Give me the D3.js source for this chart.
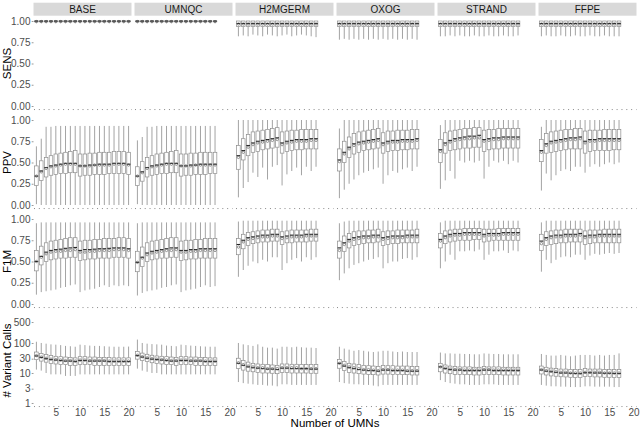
<!DOCTYPE html>
<html>
<head>
<meta charset="utf-8">
<script src="https://cdn.jsdelivr.net/npm/d3@7"></script>
<style>
body { margin: 0; background: #fff; }
text { font-family: "Liberation Sans", Arial, sans-serif; }
</style>
</head>
<body>
<div id="chart"></div>
<script>
// facets and axes
const panelNames = ["BASE", "UMNQC", "H2MGERM", "OXOG", "STRAND", "FFPE"];
const metricNames = ["SENS", "PPV", "F1M", "# Variant Calls"];
const xTicks = [5, 10, 15, 20];
const unitTicks = [0, 0.25, 0.5, 0.75, 1];
const callTicks = [1, 3, 10, 30, 100, 500];

// each box: [low whisker, q1, median, q3, high whisker, mean], one per UMN count from 1
const sensBase = [
  [0.975,0.99,1,1,1,0.993],[0.975,0.99,1,1,1,0.993],[0.975,0.99,1,1,1,0.993],[0.975,0.99,1,1,1,0.993],
  [0.975,0.99,1,1,1,0.993],[0.975,0.99,1,1,1,0.993],[0.975,0.99,1,1,1,0.993],[0.975,0.99,1,1,1,0.993],
  [0.975,0.99,1,1,1,0.993],[0.975,0.99,1,1,1,0.993],[0.975,0.99,1,1,1,0.993],[0.975,0.99,1,1,1,0.993],
  [0.975,0.99,1,1,1,0.993],[0.975,0.99,1,1,1,0.993],[0.975,0.99,1,1,1,0.993],[0.975,0.99,1,1,1,0.993],
  [0.975,0.99,1,1,1,0.993],[0.975,0.99,1,1,1,0.993],[0.975,0.99,1,1,1,0.993],[0.975,0.99,1,1,1,0.993]
];
const sensUmnqc = [
  [0.975,0.99,1,1,1,0.993],[0.975,0.99,1,1,1,0.993],[0.975,0.99,1,1,1,0.993],[0.975,0.99,1,1,1,0.993],
  [0.975,0.99,1,1,1,0.993],[0.975,0.99,1,1,1,0.993],[0.975,0.99,1,1,1,0.993],[0.975,0.99,1,1,1,0.993],
  [0.975,0.99,1,1,1,0.993],[0.975,0.99,1,1,1,0.993],[0.975,0.99,1,1,1,0.993],[0.975,0.99,1,1,1,0.993],
  [0.975,0.99,1,1,1,0.993],[0.975,0.99,1,1,1,0.993],[0.975,0.99,1,1,1,0.993],[0.975,0.99,1,1,1,0.993],
  [0.975,0.99,1,1,1,0.993]
];
const sensH2m = [
  [0.82,0.935,0.97,1,1,0.965],[0.83,0.935,0.97,1,1,0.965],[0.82,0.935,0.97,1,1,0.965],[0.84,0.935,0.97,1,1,0.965],
  [0.83,0.935,0.97,1,1,0.965],[0.82,0.935,0.97,1,1,0.965],[0.84,0.935,0.97,1,1,0.965],[0.83,0.935,0.97,1,1,0.965],
  [0.82,0.935,0.97,1,1,0.965],[0.83,0.935,0.97,1,1,0.965],[0.84,0.935,0.97,1,1,0.965],[0.82,0.935,0.97,1,1,0.965],
  [0.83,0.935,0.97,1,1,0.965],[0.84,0.935,0.97,1,1,0.965],[0.83,0.935,0.97,1,1,0.965],[0.82,0.935,0.97,1,1,0.965],
  [0.81,0.935,0.97,1,1,0.965]
];
const sensOxog = [
  [0.78,0.935,0.97,1,1,0.965],[0.79,0.935,0.97,1,1,0.965],[0.78,0.935,0.97,1,1,0.965],[0.79,0.935,0.97,1,1,0.965],
  [0.78,0.935,0.97,1,1,0.965],[0.79,0.935,0.97,1,1,0.965],[0.78,0.935,0.97,1,1,0.965],[0.79,0.935,0.97,1,1,0.965],
  [0.78,0.935,0.97,1,1,0.965],[0.79,0.935,0.97,1,1,0.965],[0.78,0.935,0.97,1,1,0.965],[0.79,0.935,0.97,1,1,0.965],
  [0.78,0.935,0.97,1,1,0.965],[0.79,0.935,0.97,1,1,0.965],[0.78,0.935,0.97,1,1,0.965],[0.79,0.935,0.97,1,1,0.965],
  [0.78,0.935,0.97,1,1,0.965]
];
const sensStrand = [
  [0.82,0.935,0.97,1,1,0.965],[0.82,0.935,0.97,1,1,0.965],[0.83,0.935,0.97,1,1,0.965],[0.82,0.935,0.97,1,1,0.965],
  [0.83,0.935,0.97,1,1,0.965],[0.82,0.935,0.97,1,1,0.965],[0.82,0.935,0.97,1,1,0.965],[0.83,0.935,0.97,1,1,0.965],
  [0.82,0.935,0.97,1,1,0.965],[0.82,0.935,0.97,1,1,0.965],[0.83,0.935,0.97,1,1,0.965],[0.82,0.935,0.97,1,1,0.965],
  [0.82,0.935,0.97,1,1,0.965],[0.83,0.935,0.97,1,1,0.965],[0.82,0.935,0.97,1,1,0.965],[0.82,0.935,0.97,1,1,0.965],
  [0.83,0.935,0.97,1,1,0.965]
];
const sensFfpe = [
  [0.82,0.935,0.97,1,1,0.965],[0.83,0.935,0.97,1,1,0.965],[0.82,0.935,0.97,1,1,0.965],[0.82,0.935,0.97,1,1,0.965],
  [0.83,0.935,0.97,1,1,0.965],[0.82,0.935,0.97,1,1,0.965],[0.82,0.935,0.97,1,1,0.965],[0.83,0.935,0.97,1,1,0.965],
  [0.82,0.935,0.97,1,1,0.965],[0.82,0.935,0.97,1,1,0.965],[0.83,0.935,0.97,1,1,0.965],[0.82,0.935,0.97,1,1,0.965],
  [0.82,0.935,0.97,1,1,0.965],[0.83,0.935,0.97,1,1,0.965],[0.82,0.935,0.97,1,1,0.965],[0.82,0.935,0.97,1,1,0.965],
  [0.82,0.935,0.97,1,1,0.965]
];

const ppvBase = [
  [0.01,0.23,0.34,0.46,0.69,0.34],[0,0.29,0.40,0.52,0.78,0.39],[0,0.33,0.44,0.56,0.92,0.43],[0,0.35,0.46,0.58,0.92,0.45],
  [0,0.36,0.47,0.60,0.93,0.46],[0,0.37,0.48,0.61,0.93,0.47],[0,0.37,0.49,0.62,0.93,0.48],[0,0.38,0.49,0.63,0.93,0.48],
  [0,0.38,0.49,0.64,0.93,0.48],[0,0.34,0.46,0.60,0.93,0.46],[0,0.35,0.46,0.60,0.93,0.46],[0,0.35,0.47,0.61,0.93,0.46],
  [0,0.36,0.47,0.61,0.93,0.47],[0,0.36,0.48,0.62,0.93,0.47],[0,0.36,0.48,0.62,0.93,0.47],[0,0.37,0.48,0.62,0.93,0.47],
  [0,0.37,0.49,0.63,0.93,0.48],[0,0.37,0.49,0.63,0.93,0.48],[0,0.37,0.49,0.63,0.93,0.48],[0,0.36,0.48,0.62,0.93,0.47]
];
const ppvUmnqc = [
  [0.01,0.23,0.34,0.45,0.76,0.34],[0,0.28,0.39,0.51,0.80,0.38],[0,0.33,0.44,0.56,0.92,0.43],[0,0.35,0.46,0.58,0.92,0.45],
  [0,0.36,0.47,0.60,0.93,0.46],[0,0.37,0.48,0.61,0.93,0.47],[0,0.37,0.49,0.62,0.93,0.48],[0,0.38,0.49,0.63,0.93,0.48],
  [0,0.38,0.49,0.64,0.93,0.48],[0,0.34,0.46,0.60,0.93,0.46],[0,0.35,0.46,0.60,0.93,0.46],[0,0.35,0.47,0.61,0.93,0.46],
  [0,0.36,0.47,0.61,0.93,0.47],[0,0.36,0.48,0.62,0.93,0.47],[0,0.36,0.48,0.62,0.93,0.47],[0,0.37,0.48,0.62,0.93,0.47],
  [0,0.37,0.48,0.62,0.93,0.47]
];
const ppvH2m = [
  [0.09,0.42,0.58,0.70,1,0.56],[0.20,0.53,0.64,0.78,1,0.62],[0.27,0.58,0.70,0.83,1,0.68],[0.38,0.62,0.73,0.86,1,0.71],
  [0.33,0.63,0.75,0.87,1,0.73],[0.44,0.65,0.76,0.88,1,0.74],[0.30,0.66,0.77,0.89,1,0.75],[0.45,0.67,0.78,0.90,1,0.76],
  [0.47,0.68,0.79,0.91,1,0.77],[0.23,0.61,0.73,0.86,1,0.71],[0.36,0.63,0.75,0.87,1,0.73],[0.40,0.64,0.76,0.88,1,0.74],
  [0.44,0.65,0.77,0.88,1,0.75],[0.35,0.65,0.77,0.89,1,0.75],[0.45,0.66,0.77,0.89,1,0.75],[0.40,0.66,0.78,0.89,1,0.76],
  [0.45,0.66,0.78,0.89,1,0.76]
];
const ppvOxog = [
  [0.08,0.40,0.53,0.66,0.90,0.51],[0.18,0.50,0.62,0.75,1,0.60],[0.25,0.56,0.68,0.80,1,0.66],[0.30,0.60,0.72,0.84,1,0.70],
  [0.35,0.62,0.74,0.86,1,0.72],[0.38,0.64,0.75,0.87,1,0.73],[0.40,0.65,0.76,0.88,1,0.74],[0.42,0.66,0.77,0.89,1,0.75],
  [0.44,0.67,0.78,0.90,1,0.76],[0.25,0.61,0.73,0.85,1,0.71],[0.35,0.63,0.75,0.87,1,0.73],[0.40,0.64,0.76,0.87,1,0.74],
  [0.38,0.64,0.76,0.88,1,0.74],[0.42,0.65,0.77,0.88,1,0.75],[0.44,0.65,0.77,0.88,1,0.75],[0.40,0.66,0.77,0.89,1,0.75],
  [0.45,0.66,0.78,0.89,1,0.76]
];
const ppvStrand = [
  [0.19,0.50,0.65,0.77,0.94,0.63],[0.29,0.61,0.73,0.85,1,0.71],[0.40,0.64,0.76,0.87,1,0.74],[0.31,0.65,0.78,0.88,1,0.76],
  [0.52,0.66,0.79,0.89,1,0.77],[0.50,0.67,0.80,0.90,1,0.78],[0.52,0.67,0.81,0.90,1,0.78],[0.50,0.68,0.81,0.91,1,0.79],
  [0.52,0.68,0.82,0.91,1,0.79],[0.31,0.63,0.77,0.88,1,0.75],[0.45,0.65,0.78,0.89,1,0.76],[0.52,0.66,0.79,0.89,1,0.77],
  [0.50,0.66,0.79,0.90,1,0.77],[0.52,0.67,0.80,0.90,1,0.78],[0.48,0.67,0.80,0.90,1,0.78],[0.52,0.67,0.80,0.90,1,0.78],
  [0.50,0.67,0.80,0.90,1,0.78]
];
const ppvFfpe = [
  [0.17,0.51,0.64,0.77,0.92,0.62],[0.37,0.61,0.72,0.84,1,0.70],[0.29,0.62,0.75,0.86,1,0.73],[0.35,0.63,0.76,0.87,1,0.74],
  [0.40,0.64,0.77,0.88,1,0.75],[0.42,0.65,0.78,0.89,1,0.76],[0.40,0.66,0.79,0.89,1,0.77],[0.45,0.66,0.79,0.90,1,0.77],
  [0.45,0.66,0.80,0.90,1,0.78],[0.38,0.61,0.75,0.87,1,0.73],[0.45,0.63,0.77,0.88,1,0.75],[0.48,0.64,0.77,0.88,1,0.75],
  [0.45,0.64,0.78,0.88,1,0.76],[0.48,0.64,0.78,0.89,1,0.76],[0.50,0.64,0.78,0.89,1,0.76],[0.48,0.65,0.78,0.89,1,0.76],
  [0.50,0.65,0.78,0.89,1,0.76]
];

const f1mBase = [
  [0.11,0.39,0.50,0.63,0.95,0.50],[0.14,0.46,0.56,0.68,0.96,0.55],[0.15,0.50,0.61,0.72,0.96,0.59],[0.16,0.52,0.63,0.74,0.96,0.61],
  [0.17,0.53,0.64,0.75,0.96,0.62],[0.19,0.54,0.645,0.76,0.96,0.62],[0.20,0.54,0.655,0.77,0.96,0.63],[0.22,0.55,0.66,0.78,0.96,0.63],
  [0.23,0.55,0.665,0.78,0.96,0.64],[0.14,0.51,0.63,0.74,0.96,0.61],[0.16,0.52,0.64,0.75,0.96,0.61],[0.17,0.53,0.64,0.75,0.96,0.62],
  [0.18,0.53,0.645,0.76,0.96,0.62],[0.20,0.54,0.65,0.76,0.96,0.63],[0.22,0.54,0.65,0.77,0.96,0.63],[0.20,0.54,0.655,0.77,0.96,0.63],
  [0.22,0.55,0.66,0.77,0.96,0.64],[0.21,0.55,0.66,0.78,0.96,0.64],[0.22,0.55,0.66,0.78,0.96,0.64],[0.21,0.54,0.65,0.77,0.96,0.63]
];
const f1mUmnqc = [
  [0.10,0.38,0.49,0.62,0.95,0.49],[0.13,0.44,0.55,0.67,0.96,0.54],[0.15,0.50,0.60,0.72,0.96,0.58],[0.16,0.52,0.62,0.74,0.96,0.60],
  [0.17,0.53,0.63,0.75,0.96,0.61],[0.19,0.54,0.64,0.76,0.96,0.62],[0.20,0.54,0.65,0.77,0.96,0.63],[0.22,0.55,0.66,0.78,0.96,0.63],
  [0.23,0.55,0.66,0.78,0.96,0.64],[0.14,0.51,0.63,0.74,0.96,0.61],[0.16,0.52,0.63,0.75,0.96,0.61],[0.17,0.53,0.64,0.75,0.96,0.62],
  [0.18,0.53,0.64,0.76,0.96,0.62],[0.20,0.54,0.65,0.76,0.96,0.63],[0.22,0.54,0.65,0.77,0.96,0.63],[0.20,0.54,0.65,0.77,0.96,0.63],
  [0.21,0.54,0.65,0.77,0.96,0.63]
];
const f1mH2m = [
  [0.32,0.58,0.70,0.77,0.97,0.67],[0.40,0.65,0.75,0.82,0.98,0.73],[0.45,0.69,0.78,0.84,0.98,0.76],[0.50,0.71,0.79,0.85,0.98,0.77],
  [0.48,0.72,0.80,0.86,0.98,0.78],[0.52,0.73,0.81,0.87,0.98,0.79],[0.50,0.73,0.81,0.87,0.98,0.79],[0.55,0.74,0.82,0.88,0.98,0.80],
  [0.55,0.74,0.82,0.88,0.98,0.80],[0.40,0.70,0.79,0.85,0.98,0.77],[0.48,0.72,0.80,0.86,0.98,0.78],[0.52,0.72,0.81,0.87,0.98,0.79],
  [0.54,0.73,0.81,0.87,0.98,0.79],[0.50,0.73,0.81,0.87,0.98,0.79],[0.55,0.73,0.82,0.87,0.98,0.80],[0.52,0.74,0.82,0.88,0.98,0.80],
  [0.55,0.74,0.82,0.88,0.98,0.80]
];
const f1mOxog = [
  [0.28,0.54,0.66,0.74,0.95,0.63],[0.36,0.62,0.72,0.80,0.97,0.70],[0.42,0.66,0.76,0.83,0.98,0.74],[0.46,0.69,0.78,0.85,0.98,0.76],
  [0.48,0.70,0.79,0.86,0.98,0.77],[0.50,0.71,0.80,0.86,0.98,0.78],[0.52,0.72,0.80,0.87,0.98,0.78],[0.53,0.72,0.81,0.87,0.98,0.79],
  [0.55,0.73,0.81,0.88,0.98,0.79],[0.42,0.69,0.78,0.85,0.98,0.76],[0.48,0.70,0.79,0.86,0.98,0.77],[0.50,0.71,0.80,0.86,0.98,0.78],
  [0.50,0.71,0.80,0.87,0.98,0.78],[0.53,0.72,0.80,0.87,0.98,0.78],[0.54,0.72,0.81,0.87,0.98,0.79],[0.52,0.72,0.81,0.87,0.98,0.79],
  [0.55,0.72,0.81,0.88,0.98,0.79]
];
const f1mStrand = [
  [0.42,0.66,0.76,0.83,0.96,0.74],[0.50,0.71,0.80,0.86,0.98,0.78],[0.58,0.73,0.82,0.87,0.98,0.80],[0.52,0.74,0.83,0.88,0.98,0.81],
  [0.62,0.75,0.83,0.88,0.98,0.81],[0.62,0.75,0.84,0.89,0.98,0.82],[0.63,0.75,0.84,0.89,0.98,0.82],[0.62,0.76,0.84,0.89,0.98,0.82],
  [0.64,0.76,0.84,0.89,0.98,0.82],[0.52,0.73,0.82,0.88,0.98,0.80],[0.58,0.74,0.83,0.88,0.98,0.81],[0.62,0.75,0.83,0.88,0.98,0.81],
  [0.62,0.75,0.83,0.89,0.98,0.81],[0.63,0.75,0.84,0.89,0.98,0.82],[0.60,0.75,0.84,0.89,0.98,0.82],[0.63,0.75,0.84,0.89,0.98,0.82],
  [0.62,0.75,0.84,0.89,0.98,0.82]
];
const f1mFfpe = [
  [0.38,0.63,0.74,0.82,0.96,0.71],[0.52,0.69,0.78,0.85,0.98,0.76],[0.48,0.70,0.80,0.86,0.98,0.78],[0.52,0.71,0.81,0.87,0.98,0.79],
  [0.55,0.72,0.81,0.87,0.98,0.79],[0.56,0.72,0.82,0.88,0.98,0.80],[0.55,0.73,0.82,0.88,0.98,0.80],[0.58,0.73,0.82,0.88,0.98,0.80],
  [0.58,0.73,0.83,0.88,0.98,0.81],[0.52,0.70,0.80,0.86,0.98,0.78],[0.57,0.71,0.81,0.87,0.98,0.79],[0.59,0.72,0.81,0.87,0.98,0.79],
  [0.58,0.72,0.82,0.87,0.98,0.80],[0.59,0.72,0.82,0.88,0.98,0.80],[0.60,0.72,0.82,0.88,0.98,0.80],[0.59,0.72,0.82,0.88,0.98,0.80],
  [0.60,0.72,0.82,0.88,0.98,0.80]
];

const callsBase = [
  [13,28,37,50,110,38],[12,25,33,45,100,34],[10,23,30,41,95,31],[9,21,28,38,90,29],
  [9,20,27,36,88,28],[9,19,26,35,85,27],[8,19,25,34,80,26],[8,18,25,33,78,26],
  [8,18,24,32,75,25],[9,19,26,35,88,27],[9,19,26,35,85,27],[9,19,25,34,82,26],
  [9,18,25,34,80,26],[9,18,25,33,80,26],[9,18,25,33,78,26],[9,18,24,33,76,25],
  [9,18,24,32,75,25],[9,18,24,32,75,25],[9,18,24,32,75,25],[9,18,24,32,76,25]
];
const callsUmnqc = [
  [14,29,38,52,130,39],[12,26,34,46,100,35],[11,24,31,42,95,32],[10,22,29,39,92,30],
  [10,21,28,37,90,29],[9,20,27,36,88,28],[9,19,26,35,82,27],[9,19,25,34,80,26],
  [9,18,25,33,78,26],[9,19,26,35,88,27],[9,19,26,35,85,27],[9,19,25,34,82,26],
  [9,18,25,34,80,26],[9,18,25,33,78,26],[9,18,24,33,76,25],[9,18,24,32,75,25],
  [9,18,24,32,75,25]
];
const callsH2m = [
  [5,14,21,31,100,22],[4.6,12.5,18,26,90,19],[4.4,11.5,16,23,85,17],[4.2,11,15,21,80,16],
  [4,10.5,14.5,20,90,15],[4,10,14,19.5,75,15],[3.8,10,13.5,19,70,14],[3.8,9.8,13.5,18.5,70,14],
  [3.6,9.5,13,18,65,14],[4.2,10.5,14.5,20,75,15],[4.2,10.5,14.5,20,75,15],[4,10,14,19.5,72,15],
  [4,10,14,19.5,75,15],[4,10,14,19,72,14],[4,10,14,19,70,14],[4,9.8,13.5,19,70,14],
  [4,9.8,13.5,19,68,14]
];
const callsOxog = [
  [5,14.4,21,28.5,75,21],[4.6,12,17,24,65,18],[4.4,10.5,15,21,60,16],[4.2,10,14,20,55,15],
  [4.2,9.5,13,19,58,14],[4,9.2,12.5,18,55,13],[4,9,12,17.5,52,13],[3.8,8.8,12,17,50,12.5],
  [3.6,8.6,11.5,16.5,52,12],[4,9.2,12.5,18,55,13],[4,9.2,12.5,17.5,55,13],[4,9,12,17.5,52,12.5],
  [4,9,12,17,50,12.5],[4,8.8,12,17,52,12.5],[4,8.8,11.5,17,50,12],[4,8.6,11.5,16.5,50,12],
  [4,8.6,11.5,16.5,50,12]
];
const callsStrand = [
  [5.8,11,16,21,48,16],[5,10,14,18.5,45,14.5],[4.6,9.5,13,17,45,13.5],[4.4,9,12.5,16.5,44,13],
  [4.2,9,12.5,16,44,13],[4.2,8.8,12,16,43,12.5],[4,8.8,12,16,43,12.5],[4,8.6,12,15.5,42,12.5],
  [4,8.6,12,15.5,42,12.5],[4.2,9,12.5,16.5,45,13],[4.2,9,12.5,16,44,13],[4.2,8.8,12,16,43,12.5],
  [4,8.8,12,16,43,12.5],[4,8.6,12,15.5,42,12.5],[4,8.6,12,15.5,42,12.5],[4,8.6,12,15.5,42,12.5],
  [4,8.6,12,15.5,42,12.5]
];
const callsFfpe = [
  [4,9.3,12.6,17,43,13],[3.8,8.6,11.5,15.5,40,12],[3.6,8,11,14.5,38,11.5],[3.6,7.8,10.5,14,38,11],
  [3.5,7.5,10,13.5,40,10.5],[3.5,7.4,10,13.5,38,10.5],[3.4,7.2,9.8,13,36,10],[3.4,7,9.6,13,38,10],
  [3.4,7,9.5,13,40,10],[3.6,7.6,10.2,14,40,10.5],[3.6,7.6,10.2,13.5,40,10.5],[3.5,7.4,10,13.5,38,10.5],
  [3.5,7.4,10,13.5,40,10.5],[3.5,7.2,9.8,13,38,10],[3.5,7.2,9.8,13,40,10],[3.4,7,9.6,13,40,10],
  [3.4,7,9.6,13,45,10]
];

const rows = [
  { panels: [sensBase, sensUmnqc, sensH2m, sensOxog, sensStrand, sensFfpe], log: false },
  { panels: [ppvBase, ppvUmnqc, ppvH2m, ppvOxog, ppvStrand, ppvFfpe], log: false },
  { panels: [f1mBase, f1mUmnqc, f1mH2m, f1mOxog, f1mStrand, f1mFfpe], log: false },
  { panels: [callsBase, callsUmnqc, callsH2m, callsOxog, callsStrand, callsFfpe], log: true }
];

// layout
const width = 642, height = 429;
const left0 = 33.5, panelW = 98, stepX = 101;
const top0 = 16.75, panelH = 93.5, stepY = 99;

const svg = d3.select("#chart")
  .append("svg")
    .attr("width", width)
    .attr("height", height);

const x = d3.scaleLinear().domain([0.4, 20.6]).range([0, panelW]);
const boxW = (x(1) - x(0)) * 0.74;

// strips
panelNames.forEach((name, c) => {
  const gx = left0 + c * stepX;
  svg.append("rect")
    .attr("x", gx).attr("y", 2.7)
    .attr("width", panelW).attr("height", 13)
    .attr("fill", "#d9d9d9");
  svg.append("text")
    .attr("x", gx + panelW / 2).attr("y", 9.4)
    .attr("text-anchor", "middle")
    .attr("dominant-baseline", "central")
    .attr("font-size", "10px")
    .attr("fill", "#1a1a1a")
    .text(name);
});

rows.forEach((row, r) => {
  const top = top0 + r * stepY;
  const bottom = top + panelH;
  const y = row.log
    ? d3.scaleLog().domain([Math.pow(10, -0.1417), Math.pow(10, 2.975)]).range([bottom, top])
    : d3.scaleLinear().domain([-0.05, 1.05]).range([bottom, top]);

  // y axis
  const yAxis = d3.axisLeft(y)
    .tickValues(row.log ? callTicks : unitTicks)
    .tickSize(1.8)
    .tickPadding(1.2)
    .tickFormat(row.log ? d3.format("d") : d3.format(".2f"));
  const ya = svg.append("g")
    .attr("transform", `translate(${left0},0)`)
    .call(yAxis);
  ya.select(".domain").remove();
  ya.selectAll(".tick line").attr("stroke", "#555").attr("stroke-width", 0.6);
  ya.selectAll(".tick text")
    .attr("fill", "#4d4d4d")
    .attr("font-size", "10px")
    .attr("font-family", "Liberation Sans, Arial, sans-serif");

  // row title
  svg.append("text")
    .attr("transform", `translate(11,${(top + bottom) / 2}) rotate(-90)`)
    .attr("text-anchor", "middle")
    .attr("font-size", "11.5px")
    .attr("fill", "#000")
    .text(metricNames[r]);

  row.panels.forEach((vals, c) => {
    const g = svg.append("g").attr("transform", `translate(${left0 + c * stepX},0)`);
    const boxes = vals.map((d, i) => ({ n: i + 1, lo: d[0], q1: d[1], med: d[2], q3: d[3], hi: d[4], mean: d[5] }));

    // dotted base line
    g.append("line")
      .attr("x1", x(0.5)).attr("x2", panelW)
      .attr("y1", bottom - 0.7).attr("y2", bottom - 0.7)
      .attr("stroke", "#888")
      .attr("stroke-width", 1)
      .attr("stroke-dasharray", `1,${x(1) - x(0) - 1}`);

    const b = g.selectAll("g.box").data(boxes).enter().append("g").attr("class", "box");

    b.append("line")
      .attr("x1", d => x(d.n)).attr("x2", d => x(d.n))
      .attr("y1", d => y(d.hi)).attr("y2", d => y(d.q3))
      .attr("stroke", "#8c8c8c").attr("stroke-width", 0.8);
    b.append("line")
      .attr("x1", d => x(d.n)).attr("x2", d => x(d.n))
      .attr("y1", d => y(d.q1)).attr("y2", d => y(d.lo))
      .attr("stroke", "#8c8c8c").attr("stroke-width", 0.8);
    b.append("rect")
      .attr("x", d => x(d.n) - boxW / 2)
      .attr("y", d => y(d.q3))
      .attr("width", boxW)
      .attr("height", d => Math.max(0.5, y(d.q1) - y(d.q3)))
      .attr("fill", "#fff")
      .attr("stroke", "#8c8c8c")
      .attr("stroke-width", 0.7);
    b.append("line")
      .attr("x1", d => x(d.n) - boxW / 2).attr("x2", d => x(d.n) + boxW / 2)
      .attr("y1", d => y(d.med)).attr("y2", d => y(d.med))
      .attr("stroke", "#222").attr("stroke-width", 1.1);
    b.append("circle")
      .attr("cx", d => x(d.n))
      .attr("cy", d => y(d.mean))
      .attr("r", 1.2)
      .attr("fill", "none")
      .attr("stroke", "#555")
      .attr("stroke-width", 0.6);

    // x axis labels only on the bottom row
    if (r === rows.length - 1) {
      const xa = g.append("g")
        .attr("transform", `translate(0,${bottom})`)
        .call(d3.axisBottom(x).tickValues(xTicks).tickSize(0).tickPadding(1.2));
      xa.select(".domain").remove();
      xa.selectAll(".tick text")
        .attr("fill", "#4d4d4d")
        .attr("font-size", "10px")
        .attr("font-family", "Liberation Sans, Arial, sans-serif");
    }
  });
});

// x title
svg.append("text")
  .attr("x", left0 + (5 * stepX + panelW) / 2)
  .attr("y", 426.5)
  .attr("text-anchor", "middle")
  .attr("font-size", "11.5px")
  .attr("fill", "#000")
  .text("Number of UMNs");
</script>
</body>
</html>
